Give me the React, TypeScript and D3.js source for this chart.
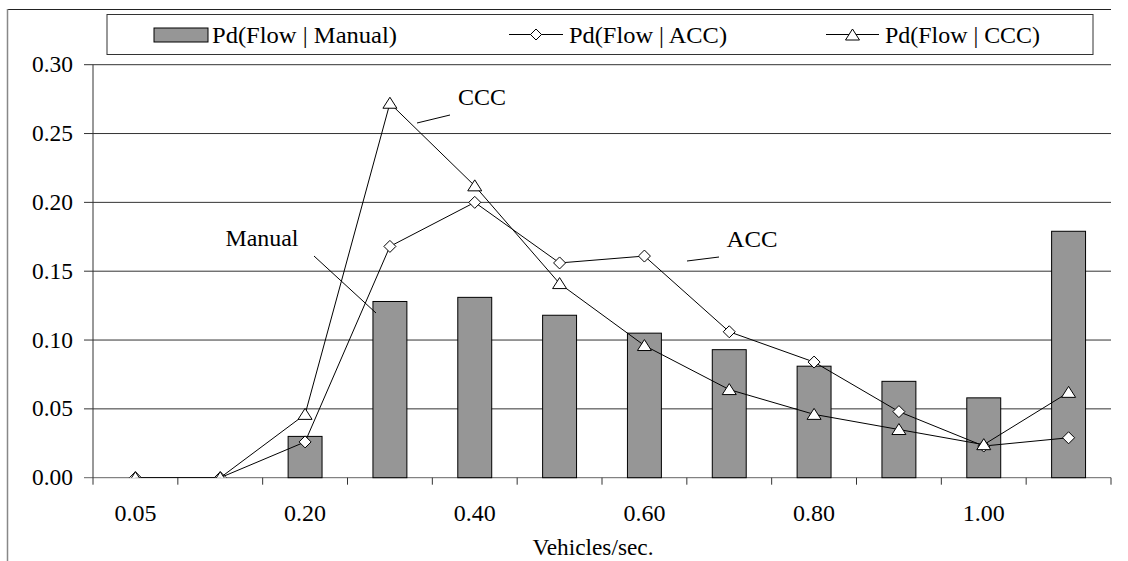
import React from "react";
import * as d3 from "d3";

const categories = ["0.05", "0.10", "0.20", "0.30", "0.40", "0.50", "0.60", "0.70", "0.80", "0.90", "1.00", "1.10"];
const shownTickLabels = ["0.05", "0.20", "0.40", "0.60", "0.80", "1.00"];
const manualValues = [0, 0, 0.030, 0.128, 0.131, 0.118, 0.105, 0.093, 0.081, 0.070, 0.058, 0.179];
const accValues = [0, 0, 0.026, 0.168, 0.200, 0.156, 0.161, 0.106, 0.084, 0.048, 0.023, 0.029];
const cccValues = [0, 0, 0.046, 0.272, 0.212, 0.141, 0.096, 0.064, 0.046, 0.035, 0.024, 0.062];
const yTickValues = [0, 0.05, 0.1, 0.15, 0.2, 0.25, 0.3];
const legendLabels = ["Pd(Flow | Manual)", "Pd(Flow | ACC)", "Pd(Flow | CCC)"];
const xAxisTitle = "Vehicles/sec.";
const annotations = [
  { text: "CCC", x: 482, y: 105, w: 48, line: [417, 123, 450, 115] },
  { text: "Manual", x: 262, y: 246, w: 73, line: [314, 256, 376, 313] },
  { text: "ACC", x: 752, y: 247, w: 51, line: [687, 261, 719, 257] },
];

const W = 1128;
const H = 561;
const left = 93;
const right = 1111;
const top = 64.7;
const bottom = 477.7;
const FONT = "Liberation Serif, Tinos, Times New Roman, Times, DejaVu Serif, Noto Serif, serif";
const FS = 23;

export default function App() {
  const x = d3.scaleBand<string>().domain(categories).range([left, right]).paddingInner(0).paddingOuter(0);
  const step = x.step();
  const bw = step / 2.5;
  const cx = (c: string) => (x(c) as number) + step / 2;
  const y = d3.scaleLinear().domain([0, 0.3]).range([bottom, top]);
  const line = d3
    .line<number>()
    .x((_, i) => cx(categories[i]))
    .y((d) => y(d));
  const diamond = (px: number, py: number, r = 6) =>
    `M${px},${py - r}L${px + r},${py}L${px},${py + r}L${px - r},${py}Z`;
  const triangle = (px: number, py: number) =>
    `M${px},${py - 6}L${px + 7},${py + 5}L${px - 7},${py + 5}Z`;
  const boundaries = d3.range(categories.length + 1).map((i) => left + i * step);
  const ts = { fontFamily: FONT };

  return (
    <svg width={W} height={H} style={{ position: "absolute", left: 0, top: 0, background: "#fff" }}>
      <defs>
        <clipPath id="plotclip">
          <rect x={left} y={0} width={right - left + 10} height={bottom} />
        </clipPath>
      </defs>
      <rect x={0} y={0} width={W} height={H} fill="#fff" />
      <line x1={8} x2={1111} y1={9.5} y2={9.5} stroke="#222" strokeWidth={1} />
      <line x1={7.5} x2={7.5} y1={9} y2={H} stroke="#888" strokeWidth={1.5} />

      {yTickValues.map((v) => (
        <g key={v}>
          <line x1={84} x2={right} y1={y(v)} y2={y(v)} stroke={v === 0 ? "#666" : "#333"} strokeWidth={1} />
          <text x={73} y={y(v) + 7.5} textAnchor="end" fontSize={FS} fill="#000" style={ts}
            textLength={41} lengthAdjust="spacingAndGlyphs">
            {v.toFixed(2)}
          </text>
        </g>
      ))}
      <line x1={left} x2={left} y1={top} y2={bottom} stroke="#333" strokeWidth={1} />
      {boundaries.map((bx, i) => (
        <line key={i} x1={bx} x2={bx} y1={bottom} y2={bottom + 7} stroke="#333" strokeWidth={1} />
      ))}
      {categories.map((c) =>
        shownTickLabels.includes(c) ? (
          <text key={c} x={cx(c)} y={521} textAnchor="middle" fontSize={FS} fill="#000" style={ts}
            textLength={42} lengthAdjust="spacingAndGlyphs">
            {c}
          </text>
        ) : null
      )}
      <text x={593} y={555} textAnchor="middle" fontSize={FS} fill="#000" style={ts}
        textLength={121} lengthAdjust="spacingAndGlyphs">
        {xAxisTitle}
      </text>

      {categories.map((c, i) =>
        manualValues[i] > 0 ? (
          <rect
            key={c}
            x={cx(c) - bw / 2}
            y={y(manualValues[i])}
            width={bw}
            height={bottom - y(manualValues[i])}
            fill="#969696"
            stroke="#000"
            strokeWidth={1}
          />
        ) : null
      )}

      <g clipPath="url(#plotclip)">
        <path d={line(accValues) || ""} fill="none" stroke="#000" strokeWidth={1} />
        {accValues.map((v, i) => (
          <path key={"a" + i} d={diamond(cx(categories[i]), y(v))} fill="#fff" stroke="#000" strokeWidth={1} />
        ))}
        <path d={line(cccValues) || ""} fill="none" stroke="#000" strokeWidth={1} />
        {cccValues.map((v, i) => (
          <path key={"c" + i} d={triangle(cx(categories[i]), y(v))} fill="#fff" stroke="#000" strokeWidth={1} />
        ))}
      </g>

      {annotations.map((a) => (
        <g key={a.text}>
          <text x={a.x} y={a.y} textAnchor="middle" fontSize={24} fill="#000" style={ts}
            textLength={a.w} lengthAdjust="spacingAndGlyphs">
            {a.text}
          </text>
          <line x1={a.line[0]} y1={a.line[1]} x2={a.line[2]} y2={a.line[3]} stroke="#000" strokeWidth={1} />
        </g>
      ))}

      <rect x={107} y={14.5} width={986} height={40} fill="#fff" stroke="#333" strokeWidth={1} />
      <rect x={154} y={28} width={54} height={14} fill="#969696" stroke="#000" strokeWidth={1} />
      <text x={212} y={43} fontSize={FS} fill="#000" style={ts} textLength={185} lengthAdjust="spacingAndGlyphs">
        {legendLabels[0]}
      </text>
      <line x1={509} x2={563} y1={34.5} y2={34.5} stroke="#000" strokeWidth={1} />
      <path d={diamond(536, 34.5, 5.5)} fill="#fff" stroke="#000" strokeWidth={1} />
      <text x={569} y={43} fontSize={FS} fill="#000" style={ts} textLength={158} lengthAdjust="spacingAndGlyphs">
        {legendLabels[1]}
      </text>
      <line x1={826} x2={879} y1={34.5} y2={34.5} stroke="#000" strokeWidth={1} />
      <path d={triangle(852.5, 35)} fill="#fff" stroke="#000" strokeWidth={1} />
      <text x={885} y={43} fontSize={FS} fill="#000" style={ts} textLength={155} lengthAdjust="spacingAndGlyphs">
        {legendLabels[2]}
      </text>
    </svg>
  );
}
